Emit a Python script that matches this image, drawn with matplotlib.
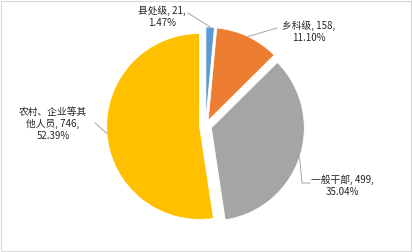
import numpy as np
import matplotlib.pyplot as plt

plt.rcParams['font.family'] = ['Noto Sans CJK SC', 'DejaVu Sans']

# data
names = ["县处级", "乡科级", "一般干部", "农村、企业等其\n他人员"]
counts = [21, 158, 499, 746]
colors = ["#5B9BD5", "#ED7D31", "#A5A5A5", "#FFC000"]

total = sum(counts)
pcts = [c / total * 100 for c in counts]

# layout (pixels, y down)
cx, cy, r, expl = 205.6, 126.0, 93.0, 6.0
label_xy = [(162, 17), (309, 32), (342, 186), (53, 124)]
elbows = [[(188, 13)], [(277, 28)], [(302, 183), (310, 183)], [(95, 123)]]

fig = plt.figure(figsize=(4.13, 2.52), dpi=100)
ax = fig.add_axes([0, 0, 1, 1])
ax.pie(counts, colors=colors, center=(cx, cy), radius=r, explode=[expl] * 4,
       startangle=-90, counterclock=True,
       wedgeprops=dict(edgecolor="white", linewidth=0.6))
ax.set_xlim(0, 413)
ax.set_ylim(252, 0)
ax.set_aspect("equal")
ax.axis("off")

# leader lines + labels
start = -90.0
for i, (n, c, p) in enumerate(zip(names, counts, pcts)):
    span = p / 100 * 360
    mid = np.deg2rad(start + span / 2)
    start += span
    ox = cx + expl * np.cos(mid)
    oy = cy + expl * np.sin(mid)
    rx = ox + r * np.cos(mid)
    ry = oy + r * np.sin(mid)
    pts = [(rx, ry)] + elbows[i]
    ax.plot([q[0] for q in pts], [q[1] for q in pts], color="#A6A6A6", lw=0.7)
    txt = f"{n}, {c},\n{p:.2f}%"
    ax.text(label_xy[i][0], label_xy[i][1], txt, ha="center", va="center",
            multialignment="center", fontsize=7, color="#262626",
            linespacing=1.25)

# chart border
fig.patches.append(plt.Rectangle((0.002, 0.004), 0.994, 0.994, transform=fig.transFigure,
                                 fill=False, edgecolor="#D9D9D9", lw=0.8))

fig.savefig("out.png", dpi=100)
